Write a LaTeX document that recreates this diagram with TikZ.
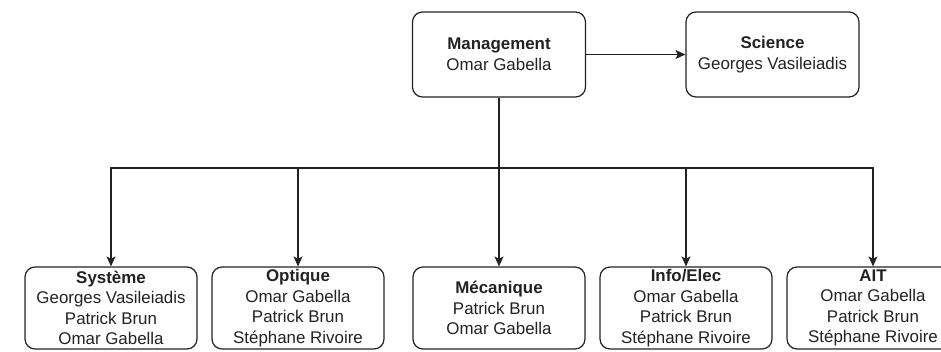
\documentclass[tikz,border=0pt]{standalone}
\usepackage{fontspec}
\setmainfont{Liberation Sans}
\usetikzlibrary{arrows.meta}
\definecolor{ink}{HTML}{222222}
\begin{document}
\begin{tikzpicture}[x=1pt,y=-1pt,
  team/.style={draw=ink,line width=1.2pt,rounded corners=10pt,fill=white,
    text=ink,inner sep=0pt,align=center,minimum width=172pt,minimum height=82pt,
    font=\fontsize{16.9}{20.5}\selectfont},
  headbox/.style={team,minimum width=173pt,minimum height=85pt},
  link/.style={draw=ink,line width=1.2pt,-{Stealth[length=10pt,width=9pt,inset=2.5pt]}},
  wire/.style={draw=ink,line width=1.2pt}]
  \useasboundingbox (0,0) rectangle (941,351);

  % top level
  \node[headbox] (mgmt) at (499,54.5) {\textbf{Management}\\Omar Gabella};
  \node[headbox] (sci)  at (772.5,54.5) {\textbf{Science}\\Georges Vasileiadis};

  % work packages
  \node[team] (sys) at (111,308) {\textbf{Système}\\Georges Vasileiadis\\Patrick Brun\\Omar Gabella};
  \node[team] (opt) at (298,308) {\textbf{Optique}\\Omar Gabella\\Patrick Brun\\Stéphane Rivoire};
  \node[team] (mec) at (499,308) {\textbf{Mécanique}\\Patrick Brun\\Omar Gabella};
  \node[team] (inf) at (686,308) {\textbf{Info/Elec}\\Omar Gabella\\Patrick Brun\\Stéphane Rivoire};
  \node[team] (ait) at (873,308) {\textbf{AIT}\\Omar Gabella\\Patrick Brun\\Stéphane Rivoire};

  % connectors
  \draw[link] (mgmt.east) -- (sci.west);
  \coordinate (bus) at (499,168);
  \draw[wire] (mgmt.south) -- (bus);
  \foreach \t in {sys,opt,inf,ait}
    \draw[link] (bus) -| (\t.north);
  \draw[link] (bus) -- (mec.north);
\end{tikzpicture}
\end{document}
